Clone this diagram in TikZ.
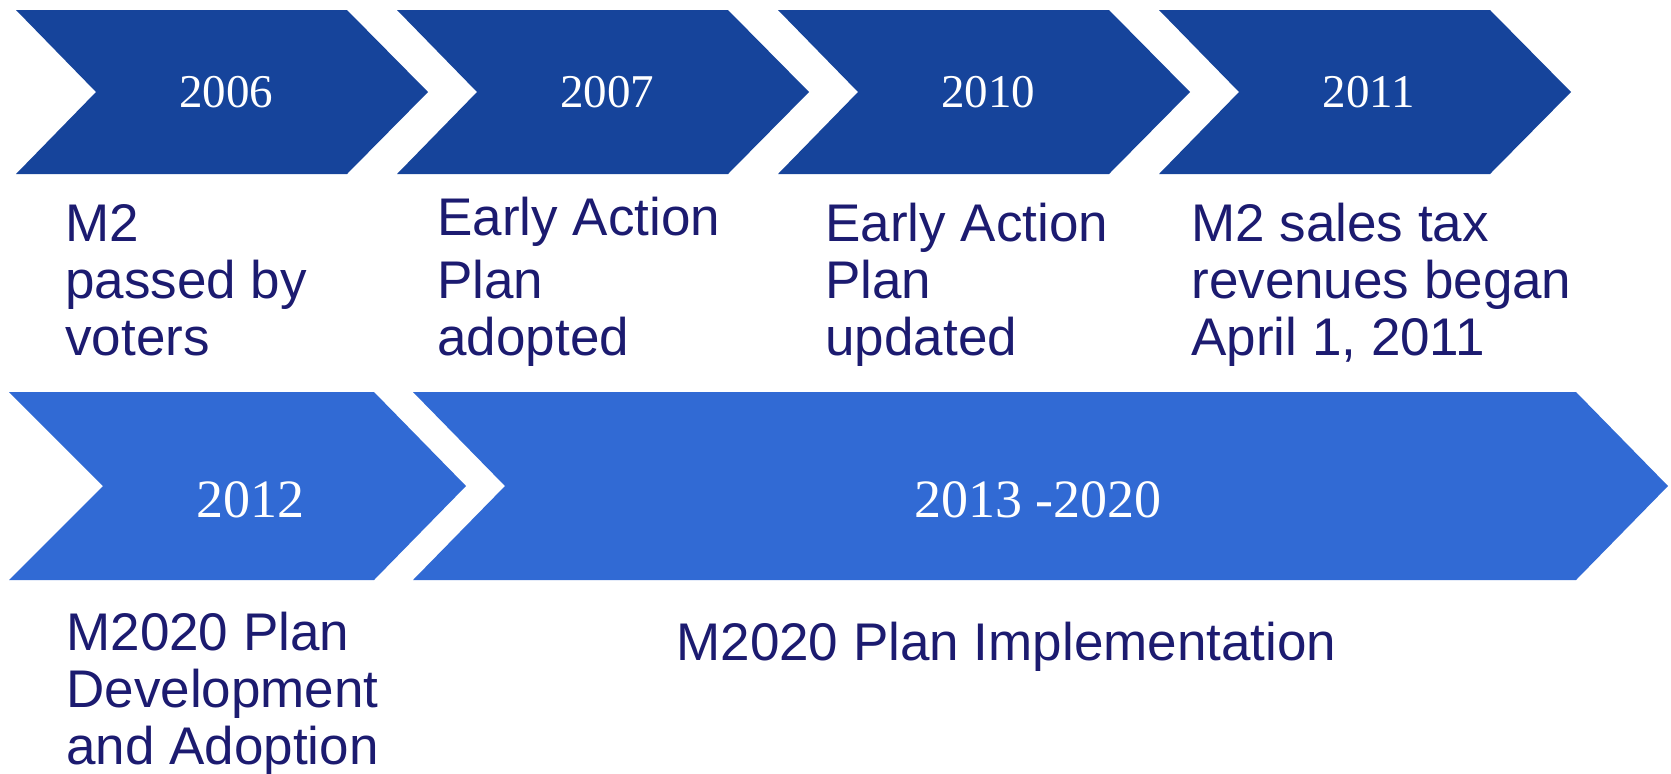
\documentclass[tikz,border=0pt]{standalone}
\usepackage{fontspec}
\setmainfont{Liberation Serif}
\newfontfamily\notefont{Liberation Sans}
\definecolor{topblue}{RGB}{22,68,155}
\definecolor{lowblue}{RGB}{49,106,212}
\definecolor{notenavy}{RGB}{28,27,112}
\tikzset{
  yearlbl/.style={text=white, inner sep=0, anchor=base, font=\fontsize{23.5}{26}\selectfont},
  yearbig/.style={yearlbl, font=\fontsize{27}{30}\selectfont},
  note/.style={text=notenavy, inner sep=0, anchor=base west, align=left,
    font=\notefont\fontsize{26.5}{28.5}\selectfont}
}
\begin{document}
\begin{tikzpicture}[x=0.5pt, y=-0.5pt]
      \useasboundingbox (0,0) rectangle (1671,773);
      % top row of chevrons
      \foreach \X/\Year in {16/2006, 397/2007, 778/2010, 1159/2011}
      {
\fill[topblue] (\X,10) -- (\X+331,10) -- (\X+412,92) -- (\X+331,174) -- (\X,174) -- (\X+80,92) -- cycle;
\node [yearlbl] (year\Year) at (\X+210,107) {\Year};
      }
      % bottom row
      \fill[lowblue] (9,392) -- (374,392) -- (466,486) -- (374,580) -- (9,580) -- (103,486) -- cycle;
      \fill[lowblue] (413,392) -- (1576,392) -- (1668,486) -- (1576,580) -- (413,580) -- (505,486) -- cycle;
\node [yearbig] (year2012) at (250,517) {2012};
\node [yearbig] (year2013) at (1038,517) {2013 -2020};
      % notes under the chevrons (anchored at the last line)
\node [note] (note2006) at (65,355) {M2\\passed by\\voters};
\node [note] (note2007) at (437,355) {Early Action\\[3pt]Plan\\adopted};
\node [note] (note2010) at (825,355) {Early Action\\Plan\\updated};
\node [note] (note2011) at (1191,355) {M2 sales tax\\revenues began\\April 1, 2011};
\node [note] (note2012) at (66,764) {M2020 Plan\\Development\\and Adoption};
\node [note] (note2013) at (676,660) {M2020 Plan Implementation};
    \end{tikzpicture}
\end{document}
